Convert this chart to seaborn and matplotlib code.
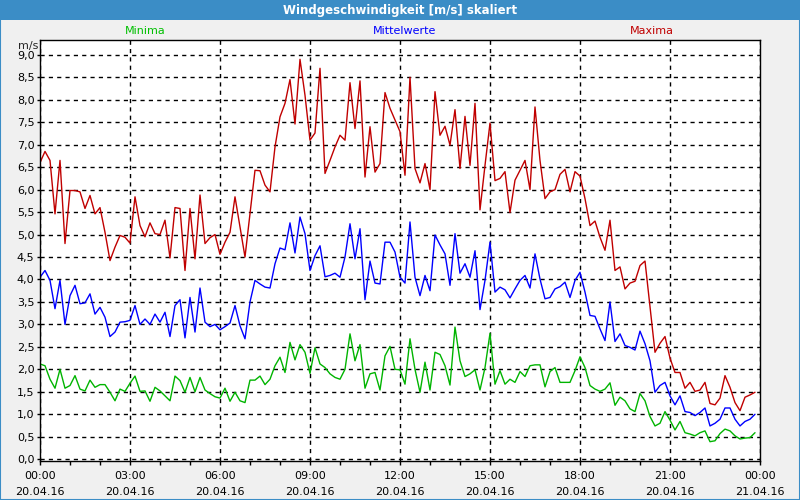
import numpy as np
import pandas as pd
import matplotlib
matplotlib.use("Agg")
import matplotlib.pyplot as plt
import matplotlib.dates as mdates
from matplotlib.patches import Rectangle
from matplotlib.ticker import MultipleLocator, FuncFormatter
import seaborn as sns

# 10-Minuten-Werte vom 20.04.16
zeit = pd.date_range("2016-04-20 00:00", periods=144, freq="10min")

maxima = [
    6.6, 6.85, 6.65, 5.46, 6.65, 4.8, 5.98, 5.98, 5.95, 5.58, 5.87, 5.46,
    5.6, 5.05, 4.42, 4.72, 4.98, 4.94, 4.81, 5.84, 5.2, 4.95, 5.26, 5.02,
    5.0, 5.32, 4.48, 5.6, 5.58, 4.2, 5.58, 4.46, 5.88, 4.8, 4.93, 5.0,
    4.56, 4.83, 5.05, 5.84, 5.17, 4.5, 5.46, 6.43, 6.42, 6.1, 5.95, 6.95,
    7.62, 7.92, 8.45, 7.46, 8.9, 8.1, 7.1, 7.26, 8.7, 6.36, 6.65, 6.95,
    7.21, 7.1, 8.38, 7.36, 8.42, 6.28, 7.4, 6.39, 6.58, 8.16, 7.81, 7.55,
    7.29, 6.32, 8.5, 6.47, 6.15, 6.58, 6.0, 8.18, 7.21, 7.41, 6.99, 7.78,
    6.47, 7.63, 6.54, 7.92, 5.55, 6.54, 7.48, 6.2, 6.25, 6.4, 5.49, 6.21,
    6.43, 6.65, 6.0, 7.84, 6.65, 5.8, 5.95, 6.0, 6.34, 6.45, 5.95, 6.4,
    6.3, 5.8, 5.2, 5.3, 4.94, 4.65, 5.32, 4.2, 4.28, 3.79, 3.92, 3.96,
    4.31, 4.41, 3.4, 2.38, 2.58, 2.73, 2.25, 1.93, 1.93, 1.58, 1.71, 1.51,
    1.54, 1.71, 1.24, 1.21, 1.36, 1.86, 1.6, 1.26, 1.08, 1.38, 1.43, 1.49,
]

mittelwerte = [
    4.05, 4.2, 3.98, 3.35, 3.98, 3.0, 3.64, 3.87, 3.46, 3.48, 3.68, 3.23,
    3.38, 3.16, 2.73, 2.83, 3.05, 3.06, 3.09, 3.42, 3.0, 3.12, 3.0, 3.23,
    3.05, 3.27, 2.73, 3.42, 3.55, 2.7, 3.6, 2.83, 3.81, 3.05, 2.95, 3.0,
    2.88, 2.95, 3.03, 3.42, 2.97, 2.68, 3.5, 3.98, 3.9, 3.83, 3.81, 4.35,
    4.7, 4.66, 5.26, 4.59, 5.39, 5.02, 4.2, 4.53, 4.75, 4.06, 4.09, 4.14,
    4.05, 4.5, 5.24, 4.46, 5.13, 3.55, 4.41, 3.92, 3.9, 4.83, 4.83, 4.61,
    4.05, 3.92, 5.28, 4.05, 3.64, 4.09, 3.75, 4.99, 4.77, 4.57, 3.87, 5.02,
    4.14, 4.35, 4.05, 4.64, 3.33, 3.98, 4.83, 3.72, 3.83, 3.77, 3.59, 3.79,
    3.98, 4.09, 3.81, 4.57, 4.01, 3.57, 3.6, 3.79, 3.84, 3.94, 3.6, 3.98,
    4.16, 3.72, 3.2, 3.18, 2.9, 2.64, 3.5, 2.62, 2.79, 2.53, 2.49, 2.43,
    2.85, 2.57, 2.19, 1.49, 1.64, 1.71, 1.41, 1.21, 1.41, 1.06, 1.04, 0.97,
    1.04, 1.14, 0.74, 0.8, 0.89, 1.14, 1.14, 0.89, 0.74, 0.84, 0.89, 1.0,
]

minima = [
    2.12, 2.08, 1.78, 1.58, 2.0, 1.58, 1.64, 1.86, 1.56, 1.52, 1.76, 1.6,
    1.66, 1.66, 1.49, 1.3, 1.56, 1.51, 1.69, 1.85, 1.51, 1.52, 1.29, 1.6,
    1.52, 1.41, 1.3, 1.85, 1.75, 1.49, 1.82, 1.5, 1.82, 1.54, 1.46, 1.39,
    1.36, 1.58, 1.29, 1.49, 1.3, 1.26, 1.76, 1.76, 1.85, 1.66, 1.78, 2.08,
    2.27, 1.93, 2.6, 2.21, 2.55, 2.38, 1.91, 2.48, 2.12, 2.04, 1.9, 1.82,
    1.78, 2.0, 2.79, 2.19, 2.55, 1.58, 1.9, 1.93, 1.54, 2.3, 2.51, 2.0,
    1.99, 1.67, 2.68, 2.0, 1.49, 2.16, 1.54, 2.38, 2.33, 2.08, 1.65, 2.94,
    2.19, 1.84, 1.9, 1.99, 1.54, 2.04, 2.8, 1.67, 1.97, 1.67, 1.78, 1.71,
    1.95, 1.84, 2.08, 2.1, 2.1, 1.61, 1.95, 2.04, 1.71, 1.71, 1.71, 1.97,
    2.28, 2.04, 1.64, 1.56, 1.51, 1.56, 1.7, 1.2, 1.38, 1.3, 1.12, 1.06,
    1.46, 1.3, 0.95, 0.74, 0.8, 1.06, 0.87, 0.65, 0.84, 0.59, 0.56, 0.52,
    0.59, 0.63, 0.39, 0.41, 0.57, 0.67, 0.63, 0.52, 0.45, 0.47, 0.48, 0.59,
]

farben = {"Minima": "#00b400", "Mittelwerte": "#0000ff", "Maxima": "#c00000"}
blau_rahmen = "#3b8dc6"

df = pd.DataFrame({"Zeit": zeit, "Minima": minima,
                   "Mittelwerte": mittelwerte, "Maxima": maxima})
lang = df.melt(id_vars="Zeit", var_name="Reihe", value_name="Wert")

sns.set_style("white")
plt.rcParams['font.family'] = ['DejaVu Sans']

fig = plt.figure(figsize=(8, 5), dpi=100, facecolor="#f0f0f0")
ax = fig.add_axes([0.05, 0.078, 0.9, 0.842])
ax.set_facecolor("white")

sns.lineplot(data=lang, x="Zeit", y="Wert", hue="Reihe", palette=farben,
             linewidth=1, ax=ax, legend=False)

# Achsen
start = zeit[0]
ax.set_xlim(start, start + pd.Timedelta(hours=24))
ax.set_ylim(-0.04, 9.33)
ax.set_xlabel("")
ax.set_ylabel("")

ax.xaxis.set_major_locator(mdates.HourLocator(byhour=range(0, 24, 3)))
ax.xaxis.set_minor_locator(mdates.HourLocator())
ax.xaxis.set_major_formatter(mdates.DateFormatter("%H:%M\n%d.%m.%y"))
ax.yaxis.set_major_locator(MultipleLocator(0.5))
ax.yaxis.set_major_formatter(FuncFormatter(lambda v, p: f"{v:.1f}".replace(".", ",")))

ax.tick_params(axis="x", which="both", direction="out", length=3, width=1,
               colors="black", labelsize=8, pad=4, bottom=True)
ax.tick_params(axis="y", which="major", direction="out", length=2, width=1,
               colors="black", labelsize=8, pad=2, left=True)

for s in ax.spines.values():
    s.set_color("black")
    s.set_linewidth(1)
    s.set_visible(True)

ax.set_axisbelow(True)
ax.grid(True, which="major", color="black", linestyle=(0, (3, 3)), linewidth=1)

# Titelleiste und Rahmen
fig.patches.append(Rectangle((0, 0.96), 1, 0.04, transform=fig.transFigure,
                             facecolor=blau_rahmen, edgecolor="none", zorder=0))
fig.patches.append(Rectangle((0, 0), 1, 1, transform=fig.transFigure,
                             fill=False, edgecolor=blau_rahmen, linewidth=1.5, zorder=5))
fig.text(0.5, 0.979, "Windgeschwindigkeit [m/s] skaliert", ha="center", va="center",
         color="white", fontsize=8.5, fontweight="bold")

# Reihenbeschriftungen
fig.text(145 / 800, 1 - 31 / 500, "Minima", color="#00c000", fontsize=8,
         ha="center", va="center")
fig.text(405 / 800, 1 - 31 / 500, "Mittelwerte", color="#0000ff", fontsize=8,
         ha="center", va="center")
fig.text(652 / 800, 1 - 31 / 500, "Maxima", color="#c00000", fontsize=8,
         ha="center", va="center")
fig.text(28 / 800, 1 - 46 / 500, "m/s", fontsize=8, ha="center", va="center")

# Zeilenabstand der zweizeiligen Zeitachse erst nach dem Zeichnen setzen
fig.canvas.draw()
for tick in ax.xaxis.get_major_ticks():
    tick.label1.set_linespacing(1.75)

fig.savefig("out.png", dpi=100, facecolor=fig.get_facecolor())
